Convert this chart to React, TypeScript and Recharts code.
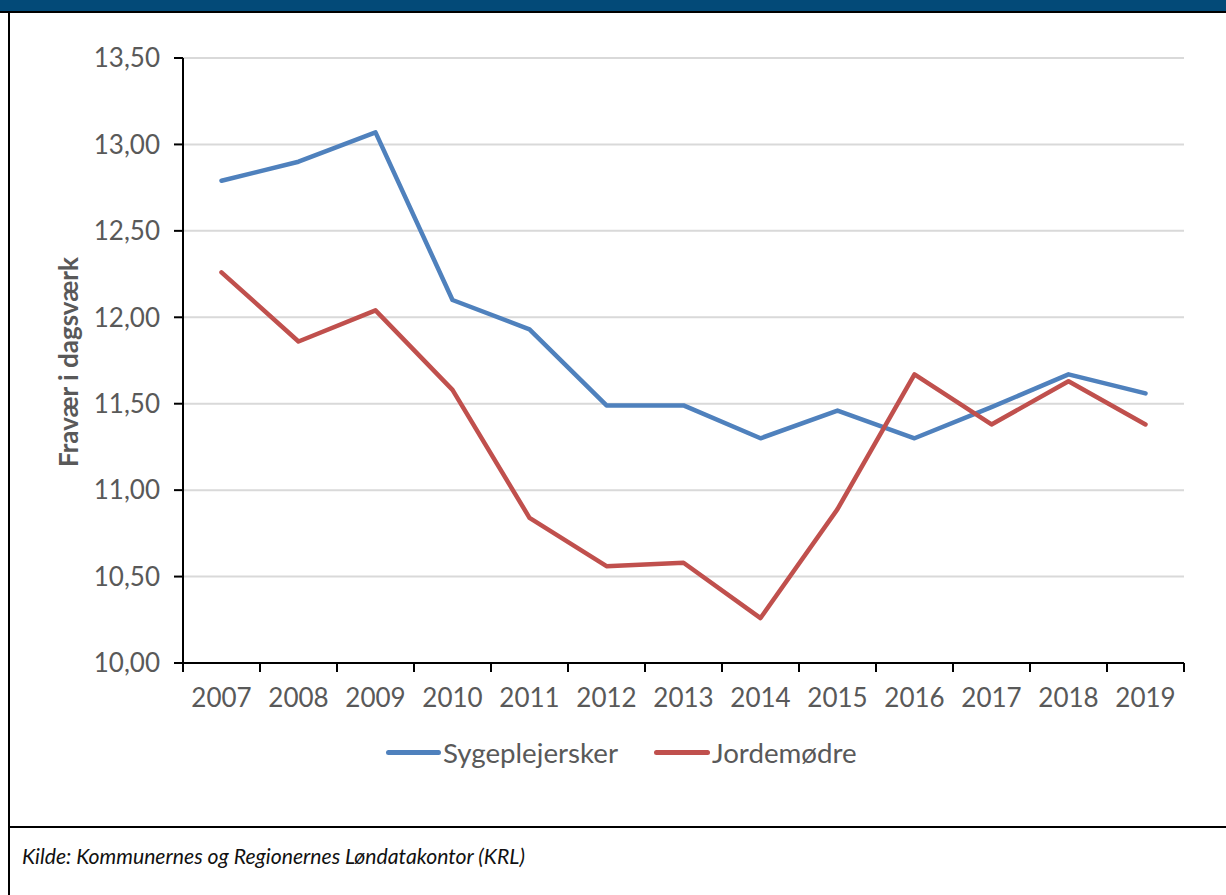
import { LineChart, Line, CartesianGrid, XAxis, YAxis } from "recharts";

const years = [2007, 2008, 2009, 2010, 2011, 2012, 2013, 2014, 2015, 2016, 2017, 2018, 2019];
const sygeplejersker = [12.79, 12.9, 13.07, 12.1, 11.93, 11.49, 11.49, 11.3, 11.46, 11.3, 11.48, 11.67, 11.56];
const jordemodre = [12.26, 11.86, 12.04, 11.58, 10.84, 10.56, 10.58, 10.26, 10.89, 11.67, 11.38, 11.63, 11.38];
const yTicks = [10, 10.5, 11, 11.5, 12, 12.5, 13, 13.5];

const data = years.map((year, i) => ({
  year,
  syg: sygeplejersker[i],
  jord: jordemodre[i],
}));

const BLUE = "#4F81BD";
const RED = "#C0504D";
const FONT = "Lato, 'Open Sans', sans-serif";
const TICK_COLOR = "#595959";

const W = 1226;
const H = 895;
const CHART_H = 720;
const M = { top: 58, right: 42, left: 0, bottom: 7 };
const Y_W = 183;
const STEP = (W - M.right - M.left - Y_W) / years.length;

// x ticks sit between categories, like the source spreadsheet chart
function XTick(props: any) {
  const { x, y, payload, index } = props;
  const top = y - 8;
  const left = x - STEP / 2;
  const right = x + STEP / 2;
  return (
    <g>
      <line x1={left} x2={left} y1={top} y2={top + 9} stroke="#000" strokeWidth={2} />
      {index === years.length - 1 && (
        <line x1={right} x2={right} y1={top} y2={top + 9} stroke="#000" strokeWidth={2} />
      )}
      <text x={x} y={y + 36} textAnchor="middle" fill={TICK_COLOR} fontSize={26} fontFamily={FONT}>
        {payload.value}
      </text>
    </g>
  );
}

export default function App() {
  return (
    <div style={{ position: "absolute", left: 0, top: 0, width: W, height: H, background: "#fff", overflow: "hidden", fontFamily: FONT }}>
      <div style={{ position: "absolute", left: 0, top: 0, width: W, height: 11, background: "#034A78" }} />
      <div style={{ position: "absolute", left: 0, top: 11, width: W, height: 2, background: "#000" }} />
      <div style={{ position: "absolute", left: 8, top: 11, width: 2, height: H, background: "#000" }} />
      <div style={{ position: "absolute", left: 8, top: 826, width: W, height: 2, background: "#000" }} />

      <div style={{ position: "absolute", left: 0, top: 0 }}>
        <LineChart width={W} height={CHART_H} data={data} margin={M}>
          <CartesianGrid vertical={false} stroke="#D9D9D9" strokeWidth={2} />
          <XAxis
            dataKey="year"
            type="number"
            domain={[2006.5, 2019.5]}
            ticks={years}
            interval={0}
            height={50}
            axisLine={{ stroke: "#000", strokeWidth: 2 }}
            tickLine={false}
            tick={<XTick />}
          />
          <YAxis
            type="number"
            domain={[10, 13.5]}
            ticks={yTicks}
            width={Y_W}
            interval={0}
            axisLine={{ stroke: "#000", strokeWidth: 2 }}
            tickLine={{ stroke: "#000", strokeWidth: 2 }}
            tickSize={9}
            tickMargin={14}
            tickFormatter={(v: number) => v.toFixed(2).replace(".", ",")}
            tick={{ fill: TICK_COLOR, fontSize: 26, fontFamily: FONT }}
          />
          <Line dataKey="syg" name="Sygeplejersker" stroke={BLUE} strokeWidth={4.5} dot={false} strokeLinecap="round" strokeLinejoin="round" isAnimationActive={false} />
          <Line dataKey="jord" name="Jordemødre" stroke={RED} strokeWidth={4.5} dot={false} strokeLinecap="round" strokeLinejoin="round" isAnimationActive={false} />
        </LineChart>
      </div>

      <div
        style={{
          position: "absolute",
          left: 68,
          top: 362,
          transform: "translate(-50%, -50%) rotate(-90deg)",
          whiteSpace: "nowrap",
          fontSize: 26,
          fontWeight: 700,
          color: TICK_COLOR,
        }}
      >
        Fravær i dagsværk
      </div>

      <div style={{ position: "absolute", left: 386, top: 736, display: "flex", alignItems: "center", fontSize: 27.7, color: TICK_COLOR }}>
        <span style={{ display: "inline-block", width: 55, height: 5, borderRadius: 3, background: BLUE, marginRight: 2 }} />
        <span style={{ marginRight: 36 }}>Sygeplejersker</span>
        <span style={{ display: "inline-block", width: 56, height: 5, borderRadius: 3, background: RED, marginRight: 2 }} />
        <span>Jordemødre</span>
      </div>

      <div style={{ position: "absolute", left: 22, top: 843, fontSize: 21.2, fontStyle: "italic", color: "#111" }}>
        Kilde: Kommunernes og Regionernes Løndatakontor (KRL)
      </div>
    </div>
  );
}
